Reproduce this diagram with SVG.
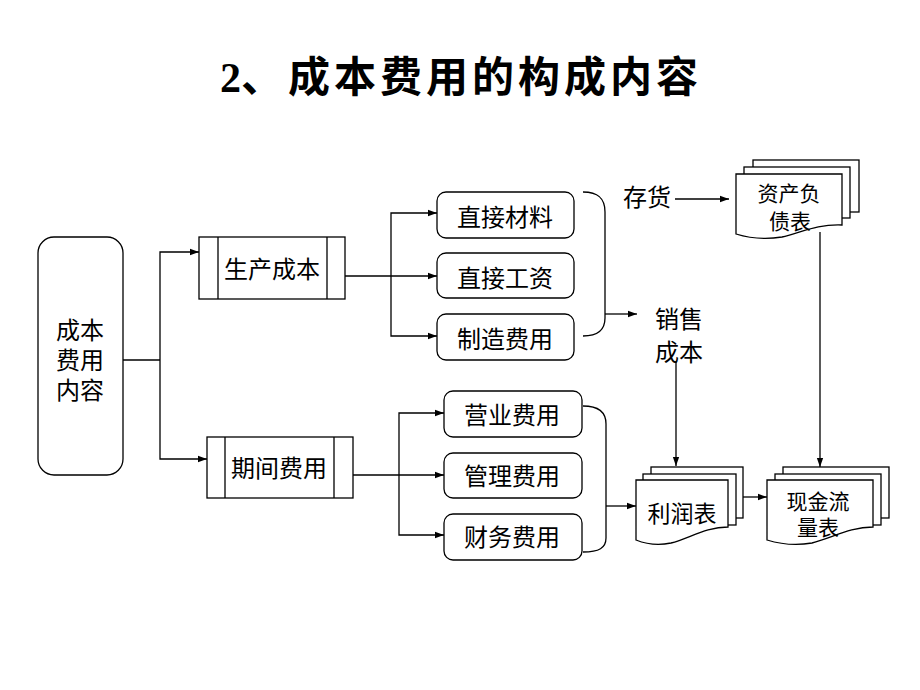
<svg xmlns="http://www.w3.org/2000/svg" width="920" height="690" viewBox="0 0 920 690">
<defs>
<marker id="arr" viewBox="0 0 10 10" refX="10" refY="5" markerWidth="9" markerHeight="9" markerUnits="userSpaceOnUse" orient="auto"><path d="M0,1.5 L10,5 L0,8.5 z" fill="#000"/></marker>
<style>
.box{fill:#fff;stroke:#000;stroke-width:1.3}
.ln{fill:none;stroke:#000;stroke-width:1.3}
.arr{fill:none;stroke:#000;stroke-width:1.3;marker-end:url(#arr)}
.t{font-family:"Noto Sans CJK SC","Liberation Sans",sans-serif;font-size:24px;fill:#000;text-anchor:middle}
.s{font-size:21px}
</style>
</defs>
<rect width="920" height="690" fill="#fff"/>
<text id="title" y="92" font-family="'Liberation Serif','Noto Sans CJK SC',serif" font-weight="bold" font-size="42" fill="#000"><tspan x="220">2、</tspan><tspan x="288 334 380 426 472 518 564 610 656">成本费用的构成内容</tspan></text>

<g id="connectors">
<path class="ln" d="M123,360 H160"/>
<path class="arr" d="M160,360 V252 H199"/>
<path class="arr" d="M160,360 V459 H207"/>
<path class="arr" d="M345,276 H437"/>
<path class="arr" d="M391,276 V213 H437"/>
<path class="arr" d="M391,276 V336 H437"/>
<path class="ln" d="M583,192 C598,192 605,198 605,212 V318 C605,330 598,336 583,336"/>
<path class="arr" d="M605,314 H637"/>
<path class="arr" d="M353,475 H444"/>
<path class="arr" d="M399,475 V413 H444"/>
<path class="arr" d="M399,475 V535 H444"/>
<path class="ln" d="M583,406 C599,406 606,412 606,424 V538 C606,548 599,552 583,552"/>
<path class="arr" d="M606,506 H636"/>
<path class="arr" d="M675,199 H729"/>
<path class="arr" d="M676,362 V466"/>
<path class="arr" d="M820,232 V467"/>
<path class="arr" d="M736,497 H767"/>
</g>

<g id="n-main">
<rect class="box" x="38" y="237" width="85" height="238" rx="16"/>
<text class="t" x="80" y="339">成本</text>
<text class="t" x="80" y="369">费用</text>
<text class="t" x="80" y="399">内容</text>
</g>

<g id="n-production">
<rect class="box" x="199" y="237" width="146" height="62"/>
<path class="ln" d="M218,237 V299 M327,237 V299"/>
<text class="t" x="272" y="278">生产成本</text>
</g>

<g id="n-period">
<rect class="box" x="207" y="437" width="146" height="61"/>
<path class="ln" d="M225,437 V498 M334,437 V498"/>
<text class="t" x="279" y="477">期间费用</text>
</g>

<g id="n-material">
<rect class="box" x="437" y="192" width="137" height="46" rx="9"/>
<text class="t" x="505" y="226">直接材料</text>
</g>
<g id="n-wage">
<rect class="box" x="437" y="253" width="137" height="45" rx="9"/>
<text class="t" x="505" y="287">直接工资</text>
</g>
<g id="n-overhead">
<rect class="box" x="437" y="314" width="137" height="46" rx="9"/>
<text class="t" x="505" y="348">制造费用</text>
</g>

<g id="n-selling">
<rect class="box" x="444" y="391" width="138" height="46" rx="9"/>
<text class="t" x="512" y="424">营业费用</text>
</g>
<g id="n-admin">
<rect class="box" x="444" y="453" width="138" height="45" rx="9"/>
<text class="t" x="512" y="485">管理费用</text>
</g>
<g id="n-finance">
<rect class="box" x="444" y="514" width="138" height="46" rx="9"/>
<text class="t" x="512" y="546">财务费用</text>
</g>

<g id="n-inventory">
<text class="t" x="647" y="206">存货</text>
</g>
<g id="n-cogs">
<text class="t" x="679" y="328">销售</text>
<text class="t" x="679" y="361">成本</text>
</g>

<g id="n-balance">
<rect class="box" x="753" y="160" width="106" height="52"/>
<rect class="box" x="744" y="167" width="106" height="51"/>
<path class="box" d="M736,174 H842 V225 C818,224 802,232 782,237 C764,240 749,238 736,234 Z"/>
<text class="t s" x="789" y="201">资产负</text>
<text class="t s" x="790" y="229">债表</text>
</g>

<g id="n-income">
<rect class="box" x="651" y="467" width="92" height="51"/>
<rect class="box" x="643" y="474" width="93" height="51"/>
<path class="box" d="M636,480 H728 V527 C706,527 690,538 671,543 C657,546 646,544 636,540 Z"/>
<text class="t" x="682" y="522" style="font-size:23px">利润表</text>
</g>

<g id="n-cashflow">
<rect class="box" x="783" y="467" width="106" height="51"/>
<rect class="box" x="775" y="474" width="106" height="51"/>
<path class="box" d="M767,480 H873 V527 C850,527 832,538 812,543 C795,546 780,544 767,540 Z"/>
<text class="t s" x="818" y="509">现金流</text>
<text class="t s" x="818" y="535">量表</text>
</g>
</svg>
